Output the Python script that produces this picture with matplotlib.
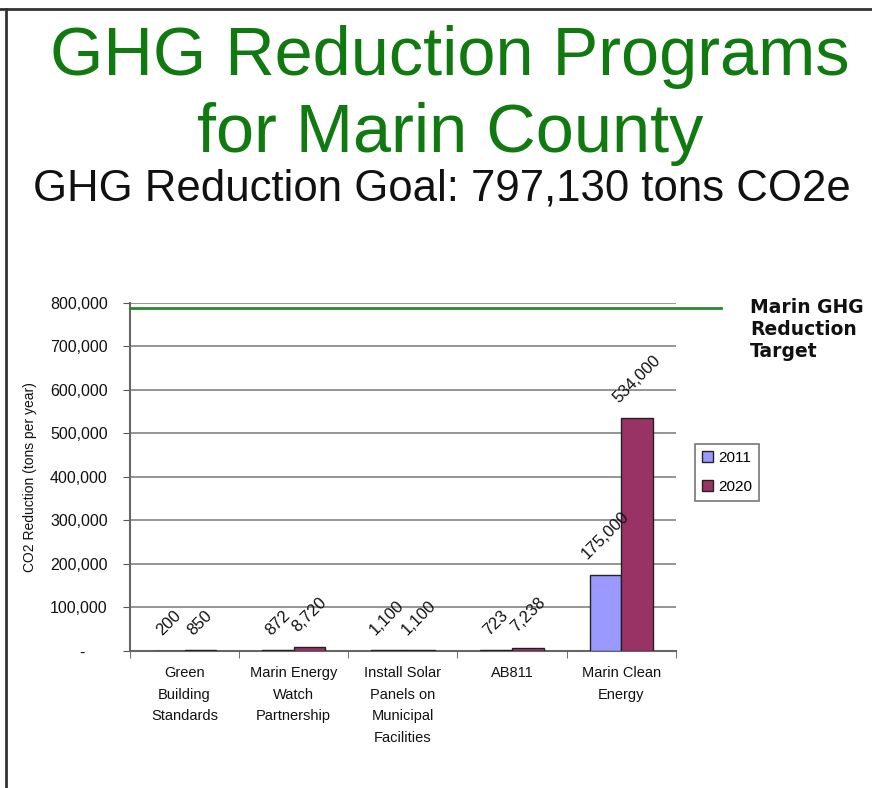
import numpy as np
import matplotlib
matplotlib.use("Agg")
import matplotlib.pyplot as plt
from matplotlib.lines import Line2D
from matplotlib.patches import Patch
from matplotlib.ticker import FuncFormatter, FixedLocator

plt.rcParams['font.family'] = ['Liberation Sans', 'DejaVu Sans']

programs = ['Green\nBuilding\nStandards', 'Marin Energy\nWatch\nPartnership',
            'Install Solar\nPanels on\nMunicipal\nFacilities', 'AB811',
            'Marin Clean\nEnergy']
vals_2011 = [200, 872, 1100, 723, 175000]
vals_2020 = [850, 8720, 1100, 7238, 534000]
target = 787000
years = ['2011', '2020']
colors = ['#9999FF', '#993366']

fig = plt.figure(figsize=(8.72, 7.88), dpi=100)
ax = fig.add_axes([0.149, 0.1742, 0.626, 0.4417])

x = np.arange(len(programs))
w = 0.29
b1 = ax.bar(x - w / 2, vals_2011, w, color=colors[0], edgecolor='#222222', linewidth=1, zorder=3)
b2 = ax.bar(x + w / 2, vals_2020, w, color=colors[1], edgecolor='#222222', linewidth=1, zorder=3)

for bars, vals in ((b1, vals_2011), (b2, vals_2020)):
    for rect, v in zip(bars, vals):
        ax.annotate(f'{v:,}', (rect.get_x() + rect.get_width() / 2, rect.get_height()),
                    xytext=(0, 9), textcoords='offset points', rotation=45,
                    ha='center', va='bottom', fontsize=12, color='#111111', zorder=4)

# target line runs past the plot area
ax.plot([-0.5, 4.91], [target, target], color='#2a8a2a', lw=2, clip_on=False, zorder=4)

ax.set_xlim(-0.5, 4.5)
ax.set_ylim(0, 800000)
ax.set_yticks(np.arange(0, 800001, 100000))
ax.yaxis.set_major_formatter(FuncFormatter(lambda v, p: '-     ' if v == 0 else f'{v:,.0f}'))
ax.grid(axis='y', color='#8c8c8c', lw=1.3, zorder=0)
ax.set_axisbelow(True)

ax.set_xticks(x)
ax.set_xticklabels(programs, fontsize=10.5, linespacing=1.7, color='#111111')
ax.xaxis.set_minor_locator(FixedLocator(np.arange(-0.5, 4.6, 1)))
ax.tick_params(axis='x', which='major', length=0, pad=11)
ax.tick_params(axis='x', which='minor', length=5, color='#555555', direction='out')
ax.tick_params(axis='y', length=5, color='#555555', labelsize=11.5, labelcolor='#111111', pad=11)

for s in ('top', 'right'):
    ax.spines[s].set_visible(False)
for s in ('left', 'bottom'):
    ax.spines[s].set_color('#666666')
    ax.spines[s].set_linewidth(1.5)

ax.set_ylabel('CO2 Reduction (tons per year)', fontsize=10, labelpad=9, color='#111111')

handles = [Patch(facecolor=c, edgecolor='#222222', label=y) for c, y in zip(colors, years)]
leg = fig.legend(handles=handles, loc='upper left', bbox_to_anchor=(0.797, 0.437),
                 bbox_transform=fig.transFigure, fontsize=11, frameon=True, fancybox=False,
                 handlelength=0.7, handleheight=0.7, handletextpad=0.35, borderpad=0.45,
                 labelspacing=1.0, borderaxespad=0)
leg.get_frame().set_edgecolor('#555555')
leg.get_frame().set_linewidth(1.2)

fig.text(0.860, 0.622, 'Marin GHG\nReduction\nTarget', family='DejaVu Sans', weight='bold',
         fontsize=13.5, ha='left', va='top', linespacing=1.2, color='#111111')

fig.text(0.516, 0.9048, 'GHG Reduction Programs', fontsize=49.3, color='#107a10',
         ha='center', va='baseline')
fig.text(0.516, 0.807, 'for Marin County', fontsize=49.3, color='#107a10',
         ha='center', va='baseline')
fig.text(0.507, 0.746, 'GHG Reduction Goal: 797,130 tons CO2e', fontsize=31.5,
         color='#111111', ha='center', va='baseline')

# frame edges (top and left)
fig.add_artist(Line2D([0, 1], [0.9886, 0.9886], color='#333333', lw=2, transform=fig.transFigure))
fig.add_artist(Line2D([0.0069, 0.0069], [0, 0.9886], color='#333333', lw=2, transform=fig.transFigure))

fig.savefig('out.png', dpi=100)
